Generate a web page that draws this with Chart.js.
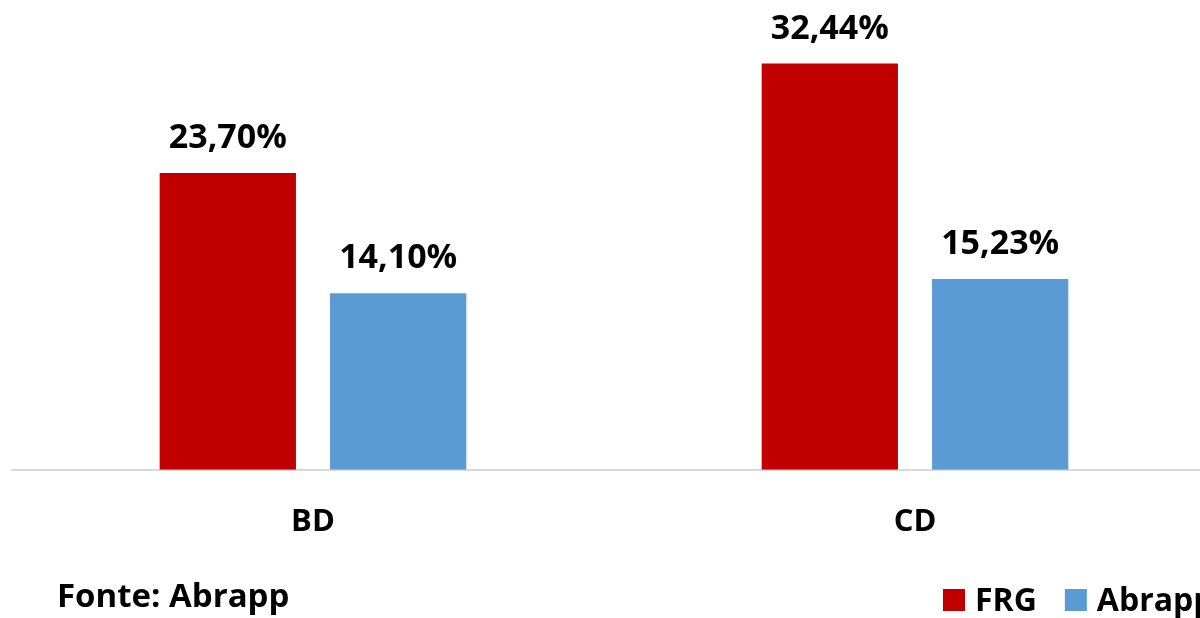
<!DOCTYPE html>
<html>
<head>
<meta charset="utf-8">
<script src="https://cdn.jsdelivr.net/npm/chart.js@4.4.1/dist/chart.umd.min.js"></script>
<style>
  html, body { margin: 0; padding: 0; background: #fff; overflow: hidden; }
  #wrap { position: relative; width: 1216px; height: 618px; }
</style>
</head>
<body>
<div id="wrap"><canvas id="chart" width="1216" height="618"></canvas></div>
<script>
// dados
const categorias = ['BD', 'CD'];
const serieFRG = [23.70, 32.44];
const serieAbrapp = [14.10, 15.23];
const nomesSeries = ['FRG', 'Abrapp'];
const cores = ['#C00000', '#5B9BD5'];
const fonte = 'Fonte: Abrapp';

const FONT = '"Open Sans", "Liberation Sans", sans-serif';

// rótulos dos valores, legenda e fonte
const extras = {
    id: 'extras',
    afterDatasetsDraw(chart) {
        const c = chart.ctx;
        c.save();
        c.fillStyle = '#000';
        c.font = 'bold 34px ' + FONT;
        c.textAlign = 'center';
        c.textBaseline = 'alphabetic';
        chart.data.datasets.forEach((ds, i) => {
            chart.getDatasetMeta(i).data.forEach((bar, j) => {
                const txt = ds.data[j].toFixed(2).replace('.', ',') + '%';
                c.fillText(txt, bar.x, bar.y - 25);
            });
        });
        c.textAlign = 'left';
        c.font = 'bold 33px ' + FONT;
        c.fillText(fonte, 57, 607);
        // legenda
        let x = 943;
        chart.data.datasets.forEach((ds) => {
            c.fillStyle = ds.backgroundColor;
            c.fillRect(x, 589, 22, 22);
            c.fillStyle = '#000';
            c.font = 'bold 32px ' + FONT;
            c.fillText(ds.label, x + 32, 611);
            x += 32 + c.measureText(ds.label).width + 28;
        });
        c.restore();
    }
};

new Chart(document.getElementById('chart'), {
    type: 'bar',
    data: {
        labels: categorias,
        datasets: [
            { label: nomesSeries[0], data: serieFRG, backgroundColor: cores[0] },
            { label: nomesSeries[1], data: serieAbrapp, backgroundColor: cores[1] }
        ]
    },
    options: {
        responsive: false,
        animation: false,
        categoryPercentage: 0.566,
        barPercentage: 0.8,
        layout: { padding: { left: 12, right: 0, top: 19, bottom: 43 } },
        plugins: {
            legend: { display: false },
            tooltip: { enabled: false }
        },
        scales: {
            x: {
                grid: { display: false, drawTicks: false },
                border: { display: true, color: '#D9D9D9', width: 2 },
                ticks: {
                    color: '#000',
                    font: { family: FONT, size: 31, weight: 'bold' },
                    padding: 34
                }
            },
            y: {
                display: false,
                min: 0,
                max: 36
            }
        }
    },
    plugins: [extras]
});
</script>
</body>
</html>
